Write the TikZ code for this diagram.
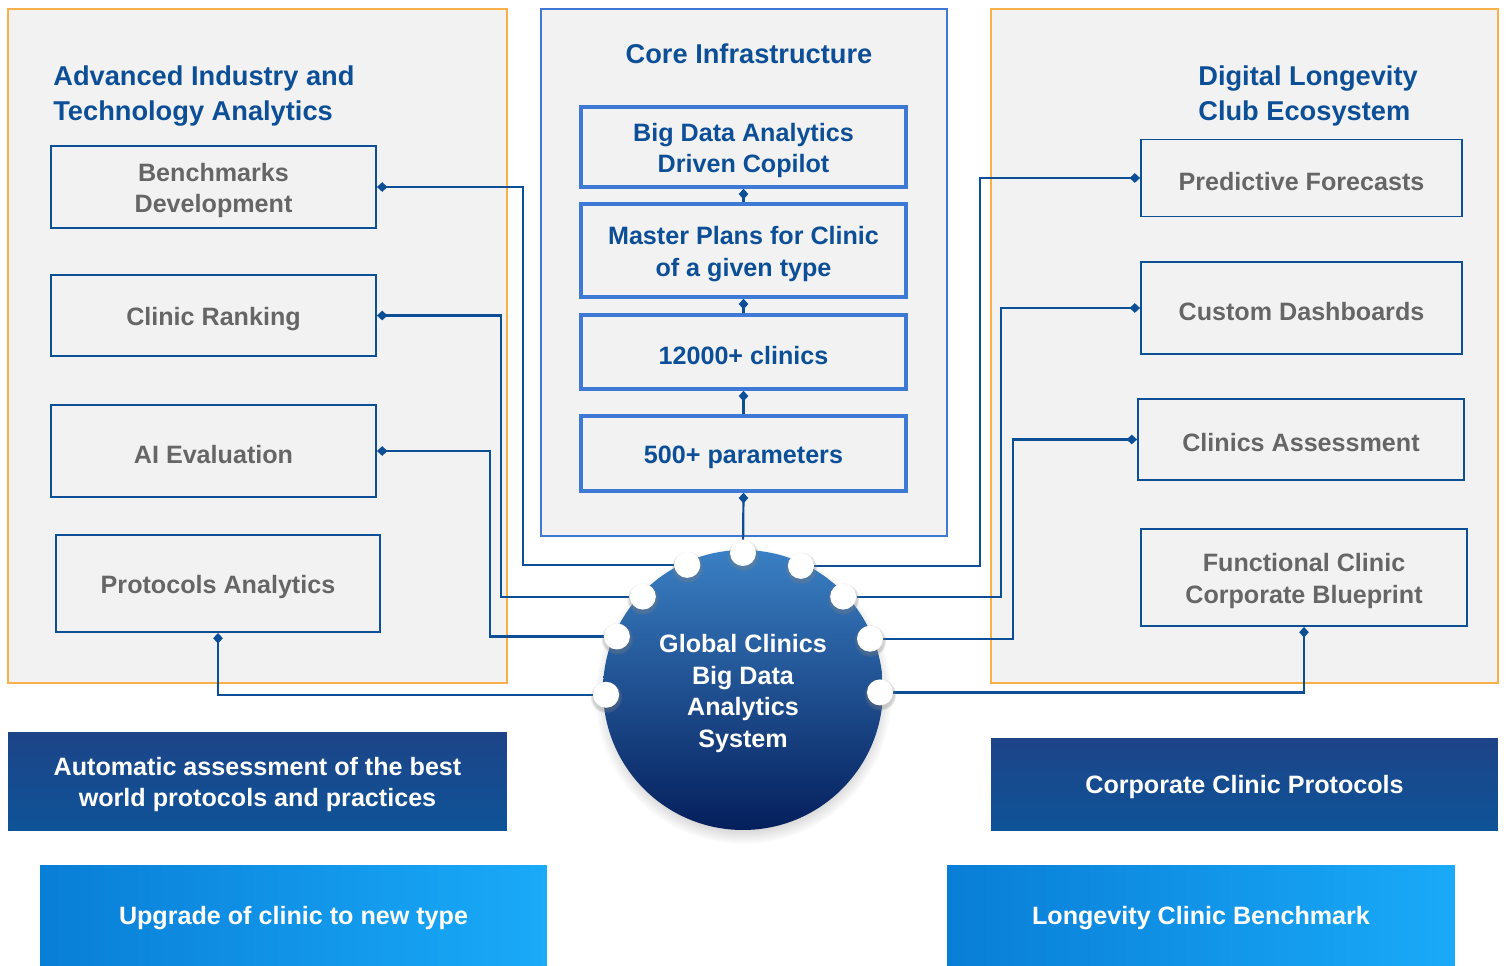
\documentclass[tikz,border=0pt]{standalone}
\usepackage{fontspec}
\setmainfont{Liberation Sans}
\usepackage{tikz}
\usetikzlibrary{arrows.meta,shadows,fadings}
\definecolor{panel gray}{RGB}{242,242,242}
\definecolor{panel orange}{RGB}{250,176,72}
\definecolor{core blue}{RGB}{62,121,214}
\definecolor{deep blue}{RGB}{13,79,151}
\definecolor{text gray}{RGB}{102,102,102}
\definecolor{hub top}{RGB}{58,128,196}
\definecolor{hub bottom}{RGB}{5,31,92}
\definecolor{navy top}{RGB}{29,68,136}
\definecolor{navy bottom}{RGB}{14,83,151}
\definecolor{sky left}{RGB}{9,126,215}
\definecolor{sky right}{RGB}{25,170,248}
\newcommand\boxfont{\fontsize{14.3}{18.1}\selectfont\bfseries}
\newcommand\headfont{\fontsize{15.5}{20.4}\selectfont\bfseries}
\newcommand\lowstrut{\rule{0pt}{1em}}
\pgfdeclarelayer{back}
\pgfdeclarelayer{links}
\pgfsetlayers{back,links,main}

\begin{document}
\begin{tikzpicture}[x=0.02cm, y=-0.02cm,
		panel/.style = {draw=panel orange, fill=panel gray, line width=0.8pt},
		title/.style = {text=deep blue, font=\headfont, align=left, inner sep=0pt},
		item/.style = {draw=deep blue, line width=1.1pt, text=text gray, font=\boxfont,
			align=center, minimum width=6.5cm, inner sep=2pt, execute at begin node=\lowstrut},
		layer/.style = {draw=core blue, line width=2pt, text=deep blue, font=\boxfont,
			align=center, minimum width=6.5cm, inner sep=2pt, execute at begin node=\lowstrut},
		link/.style = {draw=deep blue, line width=1.25pt, {Diamond[length=6pt, width=5.5pt]}-},
		dot/.style = {circle, fill=white, minimum size=0.52cm, inner sep=0pt,
			circular drop shadow={shadow xshift=0pt, shadow yshift=-1pt, shadow scale=1.25, opacity=0.35}},
		banner/.style = {text=white, font=\boxfont, align=center, inner sep=0pt,
			execute at begin node=\lowstrut}]
	\useasboundingbox (0,0) rectangle (1506,965);
	% panels
	\begin{pgfonlayer}{back}
		\fill[white] (0,0) rectangle (1506,965);
		\draw[panel] (8,9) rectangle (507,683);
		\draw[panel] (991,9) rectangle (1498,683);
		\draw[draw=core blue, fill=panel gray, line width=1pt] (541,9) rectangle (947,536);
	\end{pgfonlayer}
	\node[title, anchor=west] (ltitle) at (53,96) {Advanced Industry and\\Technology Analytics};
	\node[title, anchor=west] (rtitle) at (1198,96) {Digital Longevity\\Club Ecosystem};
	\node[title] (ctitle) at (749,54) {Core Infrastructure};
	% left column
	\node[item, minimum height=1.64cm] (bench) at (213.5,187) {\lowstrut Benchmarks\\Development};
	\node[item, minimum height=1.62cm] (rank) at (213.5,315.5) {Clinic Ranking};
	\node[item, minimum height=1.84cm] (ai) at (213.5,451) {AI Evaluation};
	\node[item, minimum height=1.94cm, minimum width=6.48cm] (proto) at (218,583.5) {Protocols Analytics};
	% right column
	\node[item, minimum height=1.54cm, minimum width=6.42cm] (fore) at (1301.5,178) {Predictive Forecasts};
	\node[item, minimum height=1.84cm, minimum width=6.42cm] (dash) at (1301.5,308) {Custom Dashboards};
	\node[item, minimum height=1.62cm, minimum width=6.52cm] (assess) at (1301,439.5) {Clinics Assessment};
	\node[item, minimum height=1.94cm, minimum width=6.52cm] (func) at (1304,577.5) {\lowstrut Functional Clinic\\Corporate Blueprint};
	% core stack
	\node[layer, minimum height=1.6cm] (copilot) at (743.5,147) {\lowstrut Big Data Analytics\\Driven Copilot};
	\node[layer, minimum height=1.86cm] (plans) at (743.5,250.5) {\lowstrut Master Plans for Clinic\\of a given type};
	\node[layer, minimum height=1.48cm] (clinics) at (743.5,352) {12000+ clinics};
	\node[layer, minimum height=1.5cm] (params) at (743.5,453.5) {500+ parameters};
	% hub and its ports
	\node[circle, minimum size=5.6cm, inner sep=0pt, top color=hub top, bottom color=hub bottom,
		text=white, font=\boxfont, align=center,
		circular drop shadow={shadow xshift=0pt, shadow yshift=-3pt, shadow scale=1.06, opacity=0.45}]
		(hub) at (743,690) {\lowstrut Global Clinics\\Big Data\\Analytics\\System};
	\foreach \a [count=\i] in {114,90,65,137,43,157,22,182,-1}
		\path (hub.center) ++(\a:2.74cm) node[dot] (d\i) {};
	% connectors
	\begin{pgfonlayer}{links}
		\draw[link] (copilot.south) -- (plans.north);
		\draw[link] (plans.south) -- (clinics.north);
		\draw[link] (clinics.south) -- (params.north);
		\draw[link] (params.south) -- (d2);
		\draw[link] (bench.east) -- ++(146,0) |- (d1);
		\draw[link] (rank.east) -- ++(124,0) |- (d4);
		\draw[link] (ai.east) -- ++(113,0) |- (d6);
		\draw[link] (proto.south) |- (d8);
		\draw[link] (fore.west) -- ++(-160,0) |- (d3);
		\draw[link] (dash.west) -- ++(-139,0) |- (d5);
		\draw[link] (assess.west) -- ++(-124,0) |- (d7);
		\draw[link] (func.south) |- (d9);
	\end{pgfonlayer}
	% banners
	\node[banner, top color=navy top, bottom color=navy bottom, minimum width=9.98cm, minimum height=1.96cm]
		(auto) at (257.5,781) {\lowstrut Automatic assessment of the best\\world protocols and practices};
	\node[banner, top color=navy top, bottom color=navy bottom, minimum width=10.14cm, minimum height=1.84cm]
		(corp) at (1244.5,784) {Corporate Clinic Protocols};
	\node[banner, left color=sky left, right color=sky right, minimum width=10.14cm, minimum height=2cm]
		(upgrade) at (293.5,915) {Upgrade of clinic to new type};
	\node[banner, left color=sky left, right color=sky right, minimum width=10.16cm, minimum height=2cm]
		(lbench) at (1201,915) {Longevity Clinic Benchmark};
\end{tikzpicture}
\end{document}
